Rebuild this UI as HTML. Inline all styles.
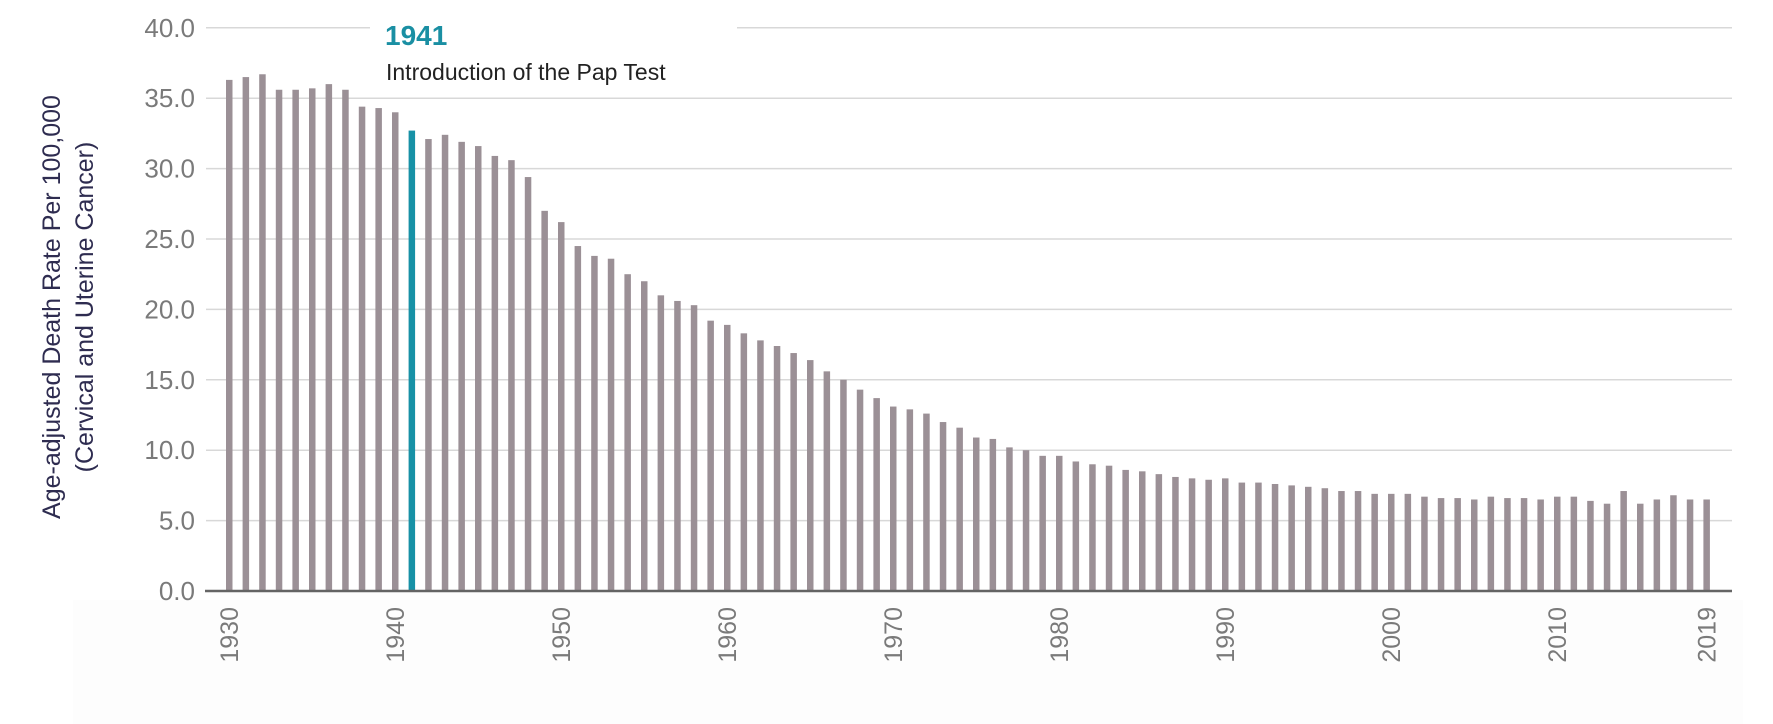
<!DOCTYPE html>
<html><head><meta charset="utf-8"><style>
html,body{margin:0;padding:0;background:#fff;}
svg{display:block;font-family:"Liberation Sans",sans-serif;}
</style></head><body>
<svg id="c" width="1773" height="724" xmlns="http://www.w3.org/2000/svg">
<rect x="73" y="600" width="1670" height="124" fill="#fdfdfd"/>
<g id="grid" stroke="#d8d8d8" stroke-width="1.5"></g>
<g id="ylab" fill="#7a7a7a" font-size="26" text-anchor="end"></g>
<g id="bars"></g>
<line x1="205" y1="591" x2="1732" y2="591" stroke="#666" stroke-width="2.5"/>
<g id="xlab" fill="#7a7a7a" font-size="25"></g>
<text transform="translate(60,307) rotate(-90)" text-anchor="middle" font-size="25" fill="#2e2c50">Age-adjusted Death Rate Per 100,000</text>
<text transform="translate(93,307) rotate(-90)" text-anchor="middle" font-size="25" fill="#2e2c50">(Cervical and Uterine Cancer)</text>
<text x="385" y="45" font-size="28" font-weight="bold" fill="#1a8fa3">1941</text>
<text x="386" y="80" font-size="23" fill="#222">Introduction of the Pap Test</text>
</svg>
<script>
var ns="http://www.w3.org/2000/svg";
function el(t,a,p,txt){var e=document.createElementNS(ns,t);for(var k in a)e.setAttribute(k,a[k]);if(txt)e.textContent=txt;document.getElementById(p).appendChild(e);}
var y0=591,s=14.08;
for(var v=0;v<=40;v+=5){var y=y0-v*s;
 if(v>0){ if(v==40){el("line",{x1:206,y1:y,x2:370,y2:y},"grid");el("line",{x1:737,y1:y,x2:1732,y2:y},"grid");}
 else el("line",{x1:206,y1:y,x2:1732,y2:y},"grid");}
 el("text",{x:195,y:y+9},"ylab",v.toFixed(1));}
var d=[36.3,36.5,36.7,35.6,35.6,35.7,36.0,35.6,34.4,34.3,34.0,
32.7,32.1,32.4,31.9,31.6,30.9,30.6,29.4,27.0,26.2,
24.5,23.8,23.6,22.5,22.0,21.0,20.6,20.3,19.2,18.9,
18.3,17.8,17.4,16.9,16.4,15.6,15.0,14.3,13.7,13.1,
12.9,12.6,12.0,11.6,10.9,10.8,10.2,10.0,9.6,9.6,
9.2,9.0,8.9,8.6,8.5,8.3,8.1,8.0,7.9,8.0,
7.7,7.7,7.6,7.5,7.4,7.3,7.1,7.1,6.9,6.9,
6.9,6.7,6.6,6.6,6.5,6.7,6.6,6.6,6.5,6.7,
6.7,6.4,6.2,7.1,6.2,6.5,6.8,6.5,6.5];
for(var i=0;i<d.length;i++){var x=229+i*16.6;
 el("rect",{x:x-3,y:y0-d[i]*s,width:6.5,height:d[i]*s,fill:i==11?"#1791a6":"#9b9096"},"bars");
 var yr=1930+i; if(yr%10==0||yr==2019) el("text",{transform:"translate("+(x+9)+",607) rotate(-90)","text-anchor":"end"},"xlab",""+yr);}
</script>
</body></html>
